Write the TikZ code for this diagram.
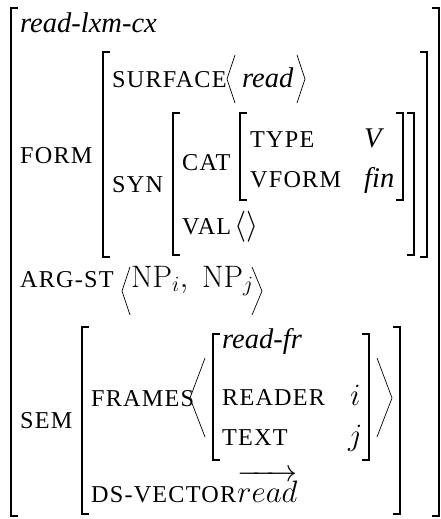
\RequirePackage{fix-cm}
\documentclass[tikz,border=0pt]{standalone}
\usepackage[no-math]{fontspec}
\setmainfont{Liberation Serif}[ItalicFont={Liberation Serif Italic}]
\newfontfamily\featfont[LetterSpace=5]{Liberation Serif}

% a pair of square brackets: left x, right x, top y, bottom y
\newcommand\avmbrk[4]{%
  \draw[brk] (#1+7,#3) -| (#1,#4) -- (#1+7,#4);
  \draw[brk] (#2-7,#3) -| (#2,#4) -- (#2-7,#4);}

\begin{document}
\begin{tikzpicture}[x=1pt, y=-1pt,
     brk/.style = {line width=1.1pt},
     ang/.style = {line width=0.7pt},
     txt/.style = {anchor=base west, inner sep=0pt,
                   font=\fontsize{28.5}{33}\selectfont},
     mth/.style = {txt, font=\fontsize{31}{36}\selectfont},
    feat/.style = {txt, font=\featfont\fontsize{24.2}{28}\selectfont}]
  \useasboundingbox (0,0) rectangle (441,519);
  \node[txt]  (lxm)       at (20,33)   {\textit{read-lxm-cx}};
  \node[feat] (form)      at (20,163)  {FORM};
  \node[feat] (surface)   at (112,87)  {SURFACE};
  \node[txt]  (surfval)   at (242,87)  {\textit{read}};
  \node[feat] (syn)       at (112,192) {SYN};
  \node[feat] (cat)       at (182,170) {CAT};
  \node[feat] (type)      at (250,147) {TYPE};
  \node[txt]  (typeval)   at (364,147) {\textit{V}};
  \node[feat] (vform)     at (250,187) {VFORM};
  \node[txt]  (vformval)  at (364,187) {\textit{fin}};
  \node[feat] (val)       at (182,234) {VAL};
  \node[mth]  (valval)    at (234,234) {$\langle\rangle$};
  \node[feat] (argst)     at (20,287)  {ARG-ST};
  \node[mth]  (argval)    at (131,287) {$\mathrm{NP}_i,\; \mathrm{NP}_j$};
  \node[feat] (sem)       at (20,428)  {SEM};
  \node[feat] (frames)    at (91,406)  {FRAMES};
  \node[txt]  (frtype)    at (222,348) {\textit{read-fr}};
  \node[feat] (reader)    at (222,405) {READER};
  \node[mth]  (readerval) at (350,405) {$i$};
  \node[feat] (text)      at (222,445) {TEXT};
  \node[mth]  (textval)   at (348,445) {$j$};
  \node[feat] (dsvec)     at (91,502)  {DS-VECTOR};
  \node[mth]  (dsval)     at (237,502) {$\overrightarrow{read}$};
  % brackets
  \avmbrk{11}{439}{8}{516}
  \avmbrk{103}{427}{52}{257}
  \avmbrk{173}{414}{113}{255}
  \avmbrk{240}{403}{113}{200}
  \avmbrk{82}{400}{327}{514}
  \avmbrk{213}{369}{334}{460}
  % angle brackets
  \draw[ang] (235,55) -- (227,79) -- (235,103);
  \draw[ang] (297,55) -- (305,79) -- (297,103);
  \draw[ang] (130,267) -- (122,291) -- (130,315);
  \draw[ang] (252,267) -- (262,291) -- (252,315);
  \draw[ang] (205,358) -- (190,398) -- (205,437);
  \draw[ang] (377,358) -- (392,398) -- (377,437);
\end{tikzpicture}
\end{document}
